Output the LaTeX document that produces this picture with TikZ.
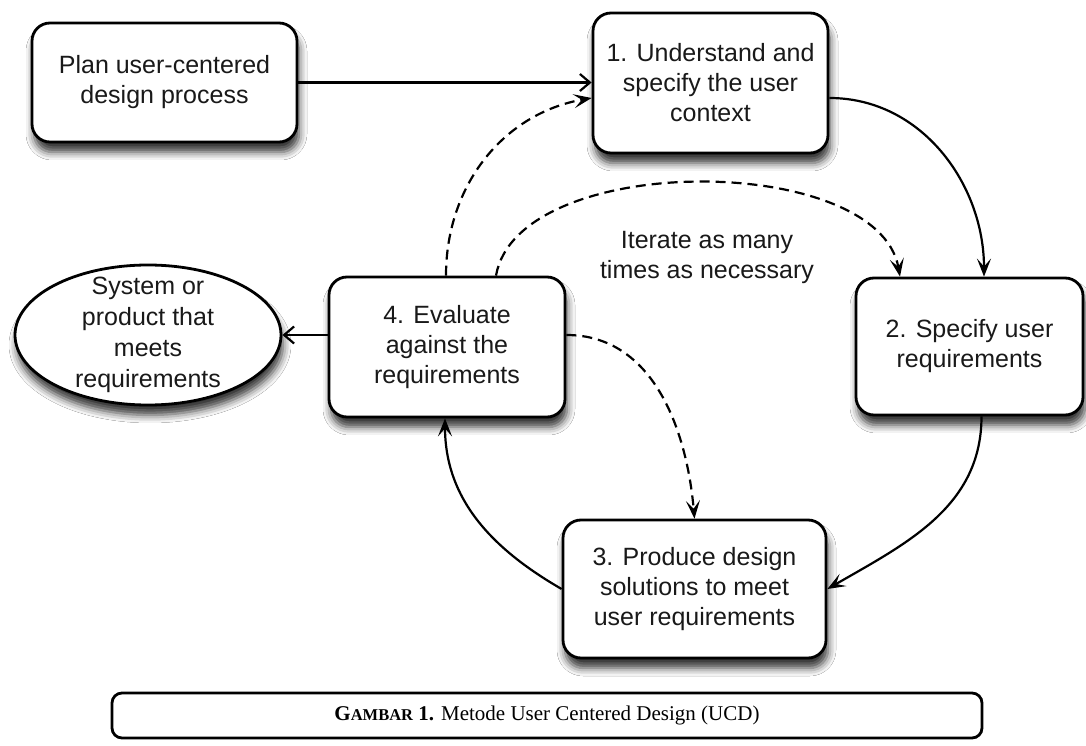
\documentclass[tikz,border=0pt]{standalone}
\usepackage{fontspec}
\setmainfont{Liberation Serif}
\newfontfamily\ucdsans{Liberation Sans}
\usetikzlibrary{arrows.meta,shapes.geometric,shadows.blur}
\tikzset{
  ucdtext/.style={font=\ucdsans\fontsize{25}{30}\selectfont, align=center, text=black!90},
  ucdbox/.style={ucdtext, draw, line width=2.8pt, rounded corners=18pt, fill=white, inner sep=0pt,
    blur shadow={shadow xshift=2pt, shadow yshift=-10pt, shadow blur radius=8pt, shadow opacity=80}},
  ucdoval/.style={ucdbox, ellipse, sharp corners},
  conn/.style={line width=2.2pt},
  ucdtip/.style={conn, -{Stealth[length=18pt,width=14pt,inset=8pt]}},
  ucdopen/.style={conn, -{Straight Barb[length=10pt,width=17pt]}},
  ucddash/.style={ucdtip, dash pattern=on 10pt off 6pt},
}
\begin{document}
\begin{tikzpicture}[x=1pt,y=1pt]
\useasboundingbox (0,0) rectangle (1086,745);
\fill[white] (0,0) rectangle (1086,745);
\node[ucdbox, minimum width=265pt, minimum height=119pt] (plan) at (164.5,662.5) {Plan user-centered\\design process};
\node[ucdbox, minimum width=235pt, minimum height=140pt] (understand) at (710.5,662) {1. Understand and\\specify the user\\context};
\node[ucdbox, minimum width=227pt, minimum height=137pt] (specify) at (969.5,398.5) {2. Specify user\\requirements};
\node[ucdbox, minimum width=263pt, minimum height=138pt] (produce) at (694.5,156) {3. Produce design\\solutions to meet\\user requirements};
\node[ucdbox, minimum width=236pt, minimum height=140pt] (evaluate) at (447,398) {4. Evaluate\\against the\\requirements};
\node[ucdoval, minimum width=266pt, minimum height=140pt] (product) at (148,410) {};
\node[ucdtext, font=\ucdsans\fontsize{25}{31}\selectfont] (producttext) at (product) {System or\\product that\\meets\\requirements};
\node[ucdtext] (iterate) at (707,487.5) {Iterate as many\\times as necessary};

\draw[ucdopen] (plan.east) -- (plan.east -| understand.west);
\draw[ucdtip] ([yshift=-15pt]understand.east) to[out=0,in=90] ([xshift=14.5pt]specify.north);
\draw[ucdtip] ([xshift=12pt]specify.south) to[out=-90,in=30] (produce.east);
\draw[ucdtip] (produce.west) to[out=150,in=-90] ([xshift=-2pt]evaluate.south);
\draw[ucdopen] (evaluate.west |- product.east) -- (product.east);
\draw[ucddash] ([xshift=-1pt]evaluate.north) to[out=90,in=190] ([yshift=-15pt]understand.west);
\draw[ucddash] ([xshift=49pt]evaluate.north) to[out=80,in=100,looseness=0.8] ([xshift=-69.5pt]specify.north);
\draw[ucddash] ([yshift=12pt]evaluate.east) to[out=0,in=95] (produce.north);

\node[draw, line width=2.8pt, rounded corners=10pt, minimum width=870pt, minimum height=45pt,
  font=\fontsize{21}{24}\selectfont] (caption) at (547,29.5)
  {\textbf{G{\fontsize{16.5}{20}\selectfont AMBAR} 1.} Metode User Centered Design (UCD)};
\end{tikzpicture}
\end{document}
